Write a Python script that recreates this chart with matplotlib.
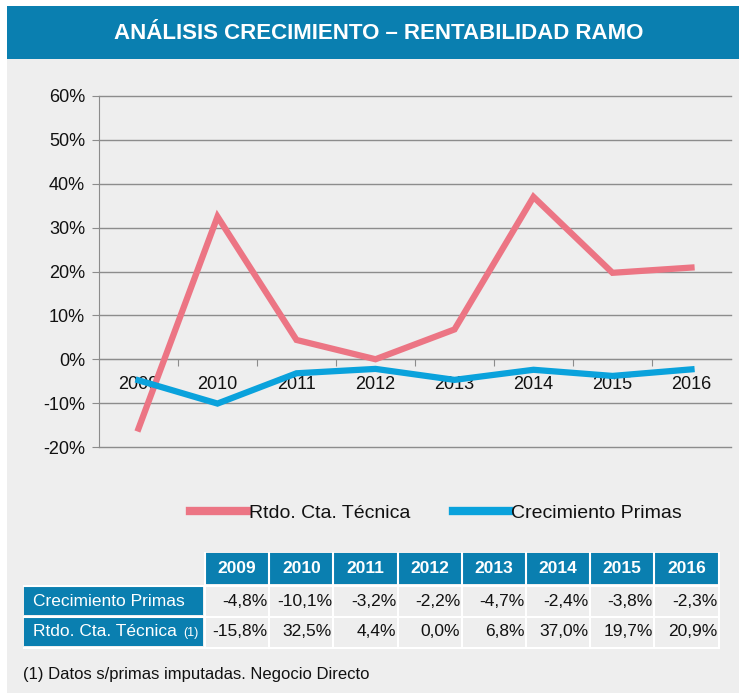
import matplotlib
matplotlib.use("Agg")
import matplotlib.pyplot as plt
from matplotlib.patches import Rectangle
from matplotlib.lines import Line2D

# ---------------- DATA ----------------

years = ["2009", "2010", "2011", "2012", "2013", "2014", "2015", "2016"]
crecimiento_primas = [-4.8, -10.1, -3.2, -2.2, -4.7, -2.4, -3.8, -2.3]
rtdo_tecnica = [-15.8, 32.5, 4.4, 0.0, 6.8, 37.0, 19.7, 20.9]
y_ticks = [-20, -10, 0, 10, 20, 30, 40, 50, 60]

title = "ANÁLISIS CRECIMIENTO – RENTABILIDAD RAMO"
row_labels = ["Crecimiento Primas", "Rtdo. Cta. Técnica"]
footnote = "(1) Datos s/primas imputadas. Negocio Directo"

# ---------------- STYLE ----------------

W, H = 739, 693
BG = "#eeeeee"
BLUE_BAR = "#0a7fb0"
PINK = "#ec7584"
CYAN = "#0aa2dc"
GRID = "#8c8c8c"
FONT = ["Liberation Sans", "DejaVu Sans"]

plt.rcParams["font.family"] = FONT


def fx(px):
    return px / W


def fy(py):
    return 1 - py / H


fig = plt.figure(figsize=(W / 100, H / 100), dpi=100)
fig.patch.set_facecolor("white")

# gray panel and title bar (behind the axes)
fig.patches.append(Rectangle((fx(7), 0), 1 - fx(7), fy(6), transform=fig.transFigure,
                             facecolor=BG, edgecolor="none", zorder=-2))
fig.patches.append(Rectangle((fx(7), fy(59)), 1 - fx(7), fy(6) - fy(59),
                             transform=fig.transFigure, facecolor=BLUE_BAR,
                             edgecolor="none", zorder=-1))
fig.text(fx(379), fy(33.5), title, color="white", fontsize=16, fontweight="bold",
         ha="center", va="center")

# ---------------- CHART ----------------

ax = fig.add_axes([fx(99), fy(447), fx(731) - fx(99), fy(96) - fy(447)])
ax.set_facecolor(BG)
x = list(range(len(years)))

ax.plot(x, rtdo_tecnica, color=PINK, lw=4.5, solid_joinstyle="miter", zorder=3,
        label="Rtdo. Cta. Técnica")
ax.plot(x, crecimiento_primas, color=CYAN, lw=4.5, solid_joinstyle="miter", zorder=3,
        label="Crecimiento Primas")

ax.set_xlim(-0.5, len(years) - 0.5)
ax.set_ylim(-20, 60)
ax.set_yticks(y_ticks)
ax.set_yticklabels([f"{v}%" for v in y_ticks], fontsize=13, color="#111111")
ax.yaxis.grid(True, color=GRID, lw=1)
for gl in ax.get_ygridlines():
    gl.set_clip_on(False)
ax.set_axisbelow(True)

for s in ["top", "right"]:
    ax.spines[s].set_visible(False)
ax.spines["left"].set_color(GRID)
ax.spines["bottom"].set_color(GRID)
ax.spines["bottom"].set_position(("data", 0))
ax.tick_params(axis="y", length=5, color=GRID, pad=5)

# category boundaries as ticks, year labels at centres
ax.set_xticks([i - 0.5 for i in range(1, len(years))])
ax.set_xticklabels([])
ax.tick_params(axis="x", which="major", direction="out", length=5, color=GRID)
ax.set_xticks(x, minor=True)
ax.set_xticklabels(years, minor=True, fontsize=13, color="#111111")
ax.tick_params(axis="x", which="minor", length=0, pad=12)

handles = [Line2D([], [], color=PINK, lw=6), Line2D([], [], color=CYAN, lw=6)]
fig.legend(handles, ["Rtdo. Cta. Técnica", "Crecimiento Primas"], ncol=2,
           loc="center", bbox_to_anchor=(fx(436), fy(513)), frameon=False,
           fontsize=14, handlelength=2.9, handletextpad=0.1, columnspacing=2.2,
           labelcolor="#111111")

# ---------------- TABLE ----------------

col_x0, col_w = 205, 64.2
lab_x0, lab_x1 = 24, 203
hdr_y = (553, 584)
rows_y = [(587, 615), (618, 646)]


def rect(x0, y0, x1, y1, color):
    fig.patches.append(Rectangle((fx(x0), fy(y1)), fx(x1) - fx(x0), fy(y0) - fy(y1),
                                 transform=fig.transFigure, facecolor=color,
                                 edgecolor="none", zorder=2))


for i, yr in enumerate(years):
    x0 = col_x0 + i * col_w
    rect(x0 + 1, hdr_y[0], x0 + col_w - 1, hdr_y[1], BLUE_BAR)
    fig.text(fx(x0 + col_w / 2), fy(sum(hdr_y) / 2), yr, color="white", fontsize=12.5,
             fontweight="bold", ha="center", va="center")

for r, (label, vals) in enumerate(zip(row_labels, [crecimiento_primas, rtdo_tecnica])):
    y0, y1 = rows_y[r]
    rect(lab_x0, y0, lab_x1, y1, BLUE_BAR)
    fig.text(fx(lab_x0 + 9), fy((y0 + y1) / 2), label, color="white", fontsize=12.5,
             ha="left", va="center")
    if r == 1:
        fig.text(fx(lab_x1 - 5), fy((y0 + y1) / 2 + 1), "(1)", color="white",
                 fontsize=9, ha="right", va="center")
    for i, v in enumerate(vals):
        x1 = col_x0 + (i + 1) * col_w
        txt = f"{v:.1f}%".replace(".", ",")
        fig.text(fx(x1 - 1.5), fy((y0 + y1) / 2), txt, color="#111111", fontsize=12.5,
                 ha="right", va="center")

# white separators of the table
table_right = col_x0 + len(years) * col_w
for yy in [585.5, 616.5, 647.5]:
    fig.add_artist(Line2D([fx(lab_x0), fx(table_right)], [fy(yy), fy(yy)],
                          color="white", lw=1.5, zorder=3))
for i in range(len(years) + 1):
    xx = col_x0 + i * col_w
    fig.add_artist(Line2D([fx(xx), fx(xx)], [fy(553), fy(648)], color="white",
                          lw=1.5, zorder=3))

fig.text(fx(23), fy(675), footnote, fontsize=12, color="#111111", ha="left",
         va="center")

fig.savefig("out.png", dpi=100, facecolor=fig.get_facecolor())
